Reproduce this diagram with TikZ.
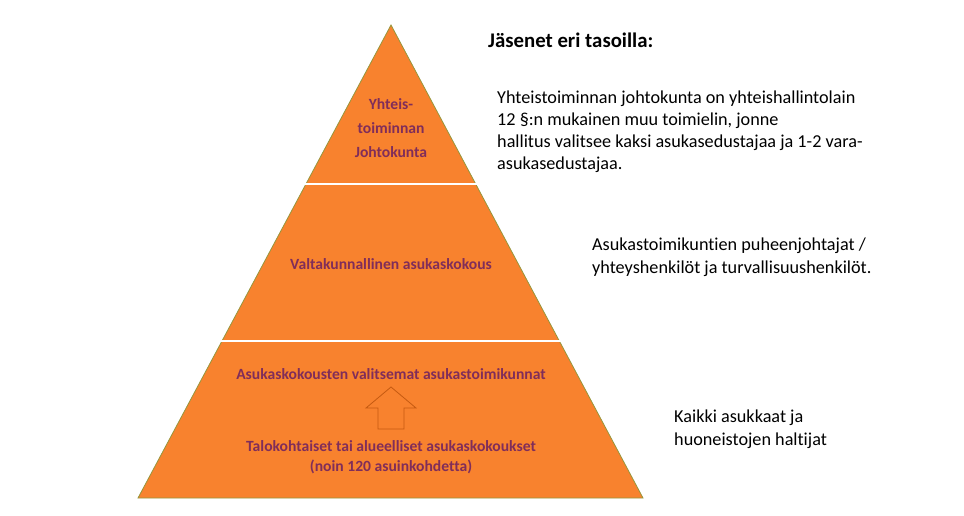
\documentclass[tikz,border=0pt]{standalone}
\usepackage{fontspec}
\setmainfont{Carlito}[Ligatures=NoCommon]
\usetikzlibrary{positioning}
\definecolor{pyramidorange}{RGB}{248,130,46}
\definecolor{pyramidedge}{RGB}{150,150,60}
\definecolor{labelpurple}{RGB}{128,45,90}
\definecolor{arrowbrown}{RGB}{197,90,17}

\begin{document}
\begin{tikzpicture}[x=1pt,y=-1pt,
    tierlabel/.style={text=labelpurple,font=\bfseries\fontsize{15.6}{24}\selectfont,align=center,inner sep=0pt},
    note/.style={font=\fontsize{18.2}{22}\selectfont,align=left,anchor=north west,inner sep=0pt}]
                \useasboundingbox (0,0) rectangle (964,516);
                %Pyramid
                \fill[pyramidorange] (391,25)--(643,498)--(138,498)--cycle;
                \draw[pyramidedge,line width=0.8pt] (391,25)--(643,498)--(138,498)--cycle;
                %Gaps between tiers
                \draw[white,line width=1.5pt] (300,184)--(482,184);
                \draw[white,line width=1.5pt] (215,341)--(566,341);
                %Tier labels
                \node[tierlabel] (johtokunta) at (391,128) {Yhteis-\\toiminnan\\Johtokunta};
                \node[tierlabel] (valtakunnallinen) at (391,264) {Valtakunnallinen asukaskokous};
                \node[tierlabel] (toimikunnat) at (391,374) {Asukaskokousten valitsemat asukastoimikunnat};
                \node[tierlabel,font=\bfseries\fontsize{15.6}{20}\selectfont] (talokohtaiset) at (391,457) {Talokohtaiset tai alueelliset asukaskokoukset\\(noin 120 asuinkohdetta)};
                %Block arrow
                \draw[arrowbrown,line width=0.8pt] (391,387)--(416,408)--(404,408)--(404,429)--(378,429)--(378,408)--(366,408)--cycle;
                %Members
                \node[font=\bfseries\fontsize{20.8}{24}\selectfont,anchor=west,inner sep=0pt] (otsikko) at (488,40) {Jäsenet eri tasoilla:};
                \node[note] (johtokuntateksti) at (497,91) {Yhteistoiminnan johtokunta on yhteishallintolain\\12 §:n mukainen muu toimielin, jonne\\hallitus valitsee kaksi asukasedustajaa ja 1-2 vara-\\asukasedustajaa.};
                \node[note,font=\fontsize{18.2}{23}\selectfont] (toimikuntateksti) at (592,238) {Asukastoimikuntien puheenjohtajat /\\yhteyshenkilöt ja turvallisuushenkilöt.};
                \node[note,font=\fontsize{18.2}{23}\selectfont] (kaikkiteksti) at (674,410) {Kaikki asukkaat ja\\huoneistojen haltijat};
            \end{tikzpicture}
\end{document}
